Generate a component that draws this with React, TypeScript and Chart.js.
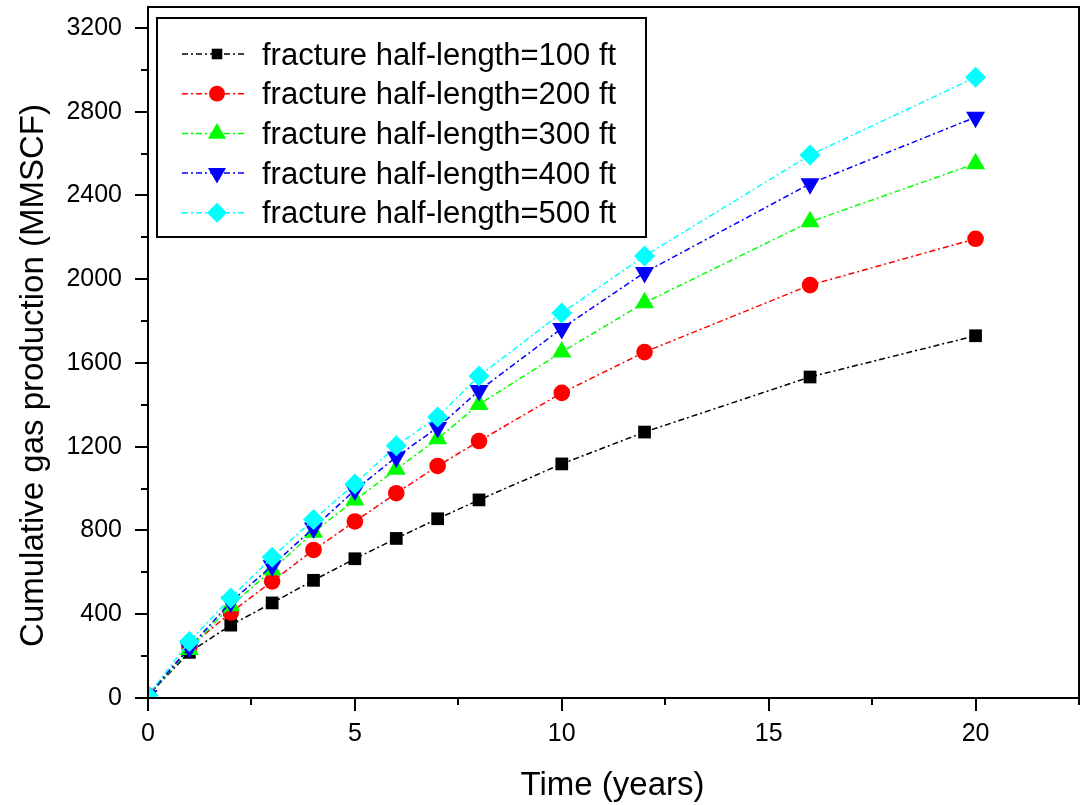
import React, { useEffect, useRef } from 'react';
import { Chart, registerables } from 'chart.js';

Chart.register(...registerables);

// ---- data ----
const years = [0, 1, 2, 3, 4, 5, 6, 7, 8, 10, 12, 16, 20];
const hl100 = [12, 218, 348, 454, 562, 665, 762, 856, 946, 1118, 1270, 1533, 1730];
const hl200 = [12, 243, 408, 557, 707, 843, 978, 1108, 1227, 1457, 1652, 1972, 2193];
const hl300 = [12, 232, 440, 612, 792, 945, 1092, 1238, 1402, 1652, 1888, 2274, 2552];
const hl400 = [12, 240, 458, 632, 812, 993, 1151, 1292, 1468, 1765, 2032, 2456, 2774];
const hl500 = [12, 270, 478, 672, 852, 1022, 1205, 1342, 1538, 1839, 2111, 2593, 2964];
const seriesLabels = [
  'fracture half-length=100 ft',
  'fracture half-length=200 ft',
  'fracture half-length=300 ft',
  'fracture half-length=400 ft',
  'fracture half-length=500 ft',
];
const xTickValues = [0, 5, 10, 15, 20];
const yTickValues = [0, 400, 800, 1200, 1600, 2000, 2400, 2800, 3200];
const xTitle = 'Time (years)';
const yTitle = 'Cumulative gas production (MMSCF)';

const X_MIN = 0, X_MAX = 22.5, X_MINOR = 2.5, X_MAJOR = 5;
const Y_MIN = 0, Y_MAX = 3300, Y_MINOR = 200, Y_MAJOR = 400, Y_MINOR_TOP = 3200;

const FONT = '"Liberation Sans", Arial, sans-serif';

const styles = [
  { color: '#000000', pointStyle: 'rect', radius: 9, rotation: 0 },
  { color: '#ff0000', pointStyle: 'circle', radius: 8.3, rotation: 0 },
  { color: '#00ff00', pointStyle: 'triangle', radius: 11, rotation: 0 },
  { color: '#0000ff', pointStyle: 'triangle', radius: 11, rotation: 180 },
  { color: '#00ffff', pointStyle: 'rectRot', radius: 10.5, rotation: 0 },
];
const DASH = [6, 3, 2, 3];

function drawMarker(ctx: CanvasRenderingContext2D, style: string, x: number, y: number, r: number, rot: number) {
  ctx.beginPath();
  if (style === 'rect') {
    const s = r * Math.SQRT1_2;
    ctx.rect(x - s, y - s, 2 * s, 2 * s);
  } else if (style === 'circle') {
    ctx.arc(x, y, r, 0, Math.PI * 2);
  } else if (style === 'triangle') {
    let rad = (rot * Math.PI) / 180;
    ctx.moveTo(x + Math.sin(rad) * r, y - Math.cos(rad) * r);
    rad += (2 * Math.PI) / 3;
    ctx.lineTo(x + Math.sin(rad) * r, y - Math.cos(rad) * r);
    rad += (2 * Math.PI) / 3;
    ctx.lineTo(x + Math.sin(rad) * r, y - Math.cos(rad) * r);
    ctx.closePath();
  } else if (style === 'rectRot') {
    ctx.moveTo(x, y - r);
    ctx.lineTo(x + r, y);
    ctx.lineTo(x, y + r);
    ctx.lineTo(x - r, y);
    ctx.closePath();
  }
  ctx.fill();
}

const decorPlugin = {
  id: 'decor',
  afterDatasetsDraw(chart: any) {
    const { ctx, chartArea: a, scales } = chart;
    const xs = scales.x, ys = scales.y;
    ctx.save();
    ctx.setLineDash([]);
    ctx.strokeStyle = '#000';
    ctx.lineWidth = 2;
    ctx.strokeRect(a.left, a.top, a.right - a.left, a.bottom - a.top);

    // tick marks
    ctx.beginPath();
    for (let i = 0; X_MIN + i * X_MINOR <= X_MAX + 1e-9; i++) {
      const v = X_MIN + i * X_MINOR;
      const p = Math.round(xs.getPixelForValue(v));
      const major = Math.abs(v / X_MAJOR - Math.round(v / X_MAJOR)) < 1e-9;
      ctx.moveTo(p, a.bottom);
      ctx.lineTo(p, a.bottom + (major ? 13 : 7));
    }
    for (let i = 0; Y_MIN + i * Y_MINOR <= Y_MINOR_TOP + 1e-9; i++) {
      const v = Y_MIN + i * Y_MINOR;
      const p = Math.round(ys.getPixelForValue(v));
      const major = v % Y_MAJOR === 0;
      ctx.moveTo(a.left, p);
      ctx.lineTo(a.left - (major ? 13 : 7), p);
    }
    ctx.stroke();

    // axis titles
    ctx.fillStyle = '#000';
    ctx.font = `33px ${FONT}`;
    ctx.textAlign = 'center';
    ctx.textBaseline = 'alphabetic';
    ctx.fillText(xTitle, (a.left + a.right) / 2 - 1, a.bottom + 97);
    ctx.save();
    ctx.translate(a.left - 105, (a.top + a.bottom) / 2 + 23);
    ctx.rotate(-Math.PI / 2);
    ctx.fillText(yTitle, 0, 0);
    ctx.restore();

    // legend
    const lx = a.left + 9, ly = a.top + 11, lw = 489, lh = 219;
    ctx.fillStyle = '#fff';
    ctx.fillRect(lx, ly, lw, lh);
    ctx.lineWidth = 2;
    ctx.strokeStyle = '#000';
    ctx.strokeRect(lx, ly, lw, lh);
    ctx.font = `31px ${FONT}`;
    ctx.textAlign = 'left';
    ctx.textBaseline = 'middle';
    seriesLabels.forEach((label, i) => {
      const st = styles[i];
      const cy = ly + 36 + i * 39.7;
      const mx = lx + 60;
      ctx.strokeStyle = st.color;
      ctx.lineWidth = 1.5;
      ctx.setLineDash(DASH);
      ctx.beginPath();
      ctx.moveTo(lx + 25, cy);
      ctx.lineTo(lx + 90, cy);
      ctx.stroke();
      ctx.setLineDash([]);
      ctx.fillStyle = st.color;
      drawMarker(ctx, st.pointStyle, mx, cy, st.pointStyle === 'rect' ? 7.5 : st.radius * 0.95, st.rotation);
      ctx.fillStyle = '#000';
      ctx.fillText(label, lx + 105, cy + 2);
    });
    ctx.restore();
  },
};

export default function App() {
  const canvasRef = useRef<HTMLCanvasElement | null>(null);

  useEffect(() => {
    const canvas = canvasRef.current;
    if (!canvas) return;
    const series = [hl100, hl200, hl300, hl400, hl500];
    const datasets = series.map((vals, i) => ({
      label: seriesLabels[i],
      data: years.map((x, j) => ({ x, y: vals[j] })),
      borderColor: styles[i].color,
      backgroundColor: styles[i].color,
      pointBackgroundColor: styles[i].color,
      pointBorderColor: styles[i].color,
      pointBorderWidth: 0,
      pointStyle: styles[i].pointStyle,
      pointRotation: styles[i].rotation,
      pointRadius: styles[i].radius,
      borderWidth: 1.5,
      borderDash: DASH,
      fill: false,
      tension: 0,
      order: 4 - i,
    }));

    const chart = new Chart(canvas, {
      type: 'line',
      data: { datasets } as any,
      options: {
        animation: false,
        responsive: true,
        maintainAspectRatio: false,
        layout: { autoPadding: false, padding: { left: 0, top: 7, right: 5, bottom: 0 } },
        plugins: { legend: { display: false }, tooltip: { enabled: false } },
        font: { family: FONT },
        scales: {
          x: {
            type: 'linear',
            min: X_MIN,
            max: X_MAX,
            grid: { display: false, drawTicks: false },
            border: { display: false },
            ticks: {
              color: '#000',
              font: { family: FONT, size: 25 },
              padding: 21,
              maxRotation: 0,
              callback: (v: any) => String(v),
            },
            afterBuildTicks: (s: any) => {
              s.ticks = xTickValues.map((v) => ({ value: v }));
            },
            afterFit: (s: any) => {
              s.height = 107;
              s.paddingLeft = 0;
              s.paddingRight = 0;
            },
          },
          y: {
            type: 'linear',
            min: Y_MIN,
            max: Y_MAX,
            grid: { display: false, drawTicks: false },
            border: { display: false },
            ticks: {
              color: '#000',
              font: { family: FONT, size: 25 },
              padding: 26,
              callback: (v: any) => String(v),
            },
            afterBuildTicks: (s: any) => {
              s.ticks = yTickValues.map((v) => ({ value: v }));
            },
            afterFit: (s: any) => {
              s.width = 148;
              s.paddingTop = 0;
              s.paddingBottom = 0;
            },
          },
        },
      } as any,
      plugins: [decorPlugin],
    });
    return () => chart.destroy();
  }, []);

  return (
    <div style={{ position: 'fixed', left: 0, top: 0, width: 1084, height: 805, background: '#fff' }}>
      <canvas ref={canvasRef} />
    </div>
  );
}
